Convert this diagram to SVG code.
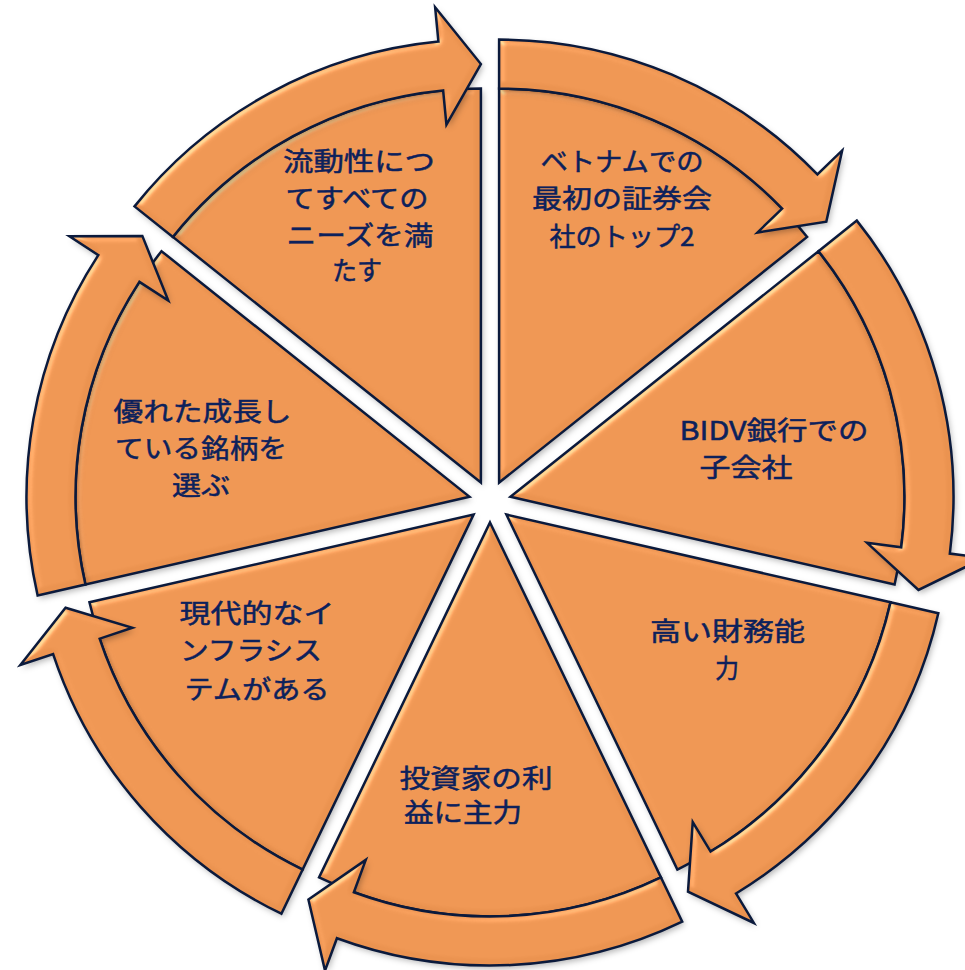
<svg xmlns="http://www.w3.org/2000/svg" xmlns:xlink="http://www.w3.org/1999/xlink" width="965" height="970" viewBox="0 0 965 970">
<style>
.pf{fill:#EB9350;stroke:none}
.ps{fill:none;stroke:#0B1A3C;stroke-width:2.5;stroke-linejoin:miter}
.lbl{font-family:"Noto Sans CJK JP","Noto Sans",sans-serif;font-size:26px;fill:#0C215C;stroke:#0C215C;stroke-width:0.5;text-anchor:middle}
</style>
<defs>
<path id="pieShape" d="M0,0 L-170.95,-354.98 A394,394 0 0 1 170.95,-354.98 Z"/>
<path id="arrowShape" d="M-192.21,-399.13 A443,443 0 0 1 153.06,-415.72 L164.99,-448.09 L181.58,-377.06 L124.22,-337.36 L136.13,-369.73 A394,394 0 0 0 -170.95,-354.98 Z"/>
<filter id="bev" x="-6%" y="-6%" width="114%" height="114%" color-interpolation-filters="sRGB">
<feGaussianBlur in="SourceAlpha" stdDeviation="3" result="blur"/>
<feSpecularLighting in="blur" surfaceScale="3" specularConstant="0.7" specularExponent="22" lighting-color="#ffffff" result="spec">
<feDistantLight azimuth="225" elevation="35"/>
</feSpecularLighting>
<feComposite in="spec" in2="SourceAlpha" operator="in" result="specIn"/>
<feComposite in="SourceGraphic" in2="specIn" operator="arithmetic" k1="0" k2="1" k3="0.4" k4="0" result="lit"/>
<feOffset in="blur" dx="2" dy="3" result="off"/>
<feFlood flood-color="#000000" flood-opacity="0.3" result="fl"/>
<feComposite in="fl" in2="off" operator="in" result="shadow"/>
<feMerge><feMergeNode in="shadow"/><feMergeNode in="lit"/></feMerge>
</filter>
</defs>
<rect width="965" height="970" fill="#ffffff"/>

<g id="node-1">
<g filter="url(#bev)"><use href="#pieShape" class="pf" transform="translate(499.11,482.58) rotate(25.714)"/></g>
<use href="#pieShape" class="ps" transform="translate(499.11,482.58) rotate(25.714)"/>
<text class="lbl" x="622" y="171" textLength="163" lengthAdjust="spacingAndGlyphs">ベトナムでの</text>
<text class="lbl" x="622" y="208" textLength="180" lengthAdjust="spacingAndGlyphs">最初の証券会</text>
<text class="lbl" x="622" y="246" textLength="145" lengthAdjust="spacingAndGlyphs">社のトップ2</text>
</g>

<g id="node-2">
<g filter="url(#bev)"><use href="#pieShape" class="pf" transform="translate(510.47,496.83) rotate(77.143)"/></g>
<use href="#pieShape" class="ps" transform="translate(510.47,496.83) rotate(77.143)"/>
<text class="lbl" x="774" y="440" textLength="189" lengthAdjust="spacingAndGlyphs">BIDV銀行での</text>
<text class="lbl" x="746" y="477" textLength="93" lengthAdjust="spacingAndGlyphs">子会社</text>
</g>

<g id="node-3">
<g filter="url(#bev)"><use href="#pieShape" class="pf" transform="translate(506.42,514.59) rotate(128.571)"/></g>
<use href="#pieShape" class="ps" transform="translate(506.42,514.59) rotate(128.571)"/>
<text class="lbl" x="727.5" y="641" textLength="155" lengthAdjust="spacingAndGlyphs">高い財務能</text>
<text class="lbl" x="727" y="678" textLength="24" lengthAdjust="spacingAndGlyphs">力</text>
</g>

<g id="node-4">
<g filter="url(#bev)"><use href="#pieShape" class="pf" transform="translate(490,522.5) rotate(180)"/></g>
<use href="#pieShape" class="ps" transform="translate(490,522.5) rotate(180)"/>
<text class="lbl" x="476" y="788" textLength="153" lengthAdjust="spacingAndGlyphs">投資家の利</text>
<text class="lbl" x="463" y="822" textLength="118" lengthAdjust="spacingAndGlyphs">益に主力</text>
</g>

<g id="node-5">
<g filter="url(#bev)"><use href="#pieShape" class="pf" transform="translate(473.58,514.59) rotate(231.429)"/></g>
<use href="#pieShape" class="ps" transform="translate(473.58,514.59) rotate(231.429)"/>
<text class="lbl" x="257" y="623" textLength="155" lengthAdjust="spacingAndGlyphs">現代的なイ</text>
<text class="lbl" x="251" y="660" textLength="142" lengthAdjust="spacingAndGlyphs">ンフラシス</text>
<text class="lbl" x="257" y="699" textLength="145" lengthAdjust="spacingAndGlyphs">テムがある</text>
</g>

<g id="node-6">
<g filter="url(#bev)"><use href="#pieShape" class="pf" transform="translate(469.53,496.83) rotate(282.857)"/></g>
<use href="#pieShape" class="ps" transform="translate(469.53,496.83) rotate(282.857)"/>
<text class="lbl" x="202.5" y="421" textLength="178" lengthAdjust="spacingAndGlyphs">優れた成長し</text>
<text class="lbl" x="201" y="458" textLength="172" lengthAdjust="spacingAndGlyphs">ている銘柄を</text>
<text class="lbl" x="201" y="495" textLength="58" lengthAdjust="spacingAndGlyphs">選ぶ</text>
</g>

<g id="node-7">
<g filter="url(#bev)"><use href="#pieShape" class="pf" transform="translate(480.89,482.58) rotate(334.286)"/></g>
<use href="#pieShape" class="ps" transform="translate(480.89,482.58) rotate(334.286)"/>
<text class="lbl" x="359" y="171" textLength="152" lengthAdjust="spacingAndGlyphs">流動性につ</text>
<text class="lbl" x="357" y="208" textLength="143" lengthAdjust="spacingAndGlyphs">てすべての</text>
<text class="lbl" x="360" y="245" textLength="147" lengthAdjust="spacingAndGlyphs">ニーズを満</text>
<text class="lbl" x="357" y="280" textLength="50" lengthAdjust="spacingAndGlyphs">たす</text>
</g>

<g id="connectors">
<g filter="url(#bev)"><use href="#arrowShape" class="pf" transform="translate(499.11,482.58) rotate(25.714)"/></g>
<use href="#arrowShape" class="ps" transform="translate(499.11,482.58) rotate(25.714)"/>
<g filter="url(#bev)"><use href="#arrowShape" class="pf" transform="translate(510.47,496.83) rotate(77.143)"/></g>
<use href="#arrowShape" class="ps" transform="translate(510.47,496.83) rotate(77.143)"/>
<g filter="url(#bev)"><use href="#arrowShape" class="pf" transform="translate(506.42,514.59) rotate(128.571)"/></g>
<use href="#arrowShape" class="ps" transform="translate(506.42,514.59) rotate(128.571)"/>
<g filter="url(#bev)"><use href="#arrowShape" class="pf" transform="translate(490,522.5) rotate(180)"/></g>
<use href="#arrowShape" class="ps" transform="translate(490,522.5) rotate(180)"/>
<g filter="url(#bev)"><use href="#arrowShape" class="pf" transform="translate(473.58,514.59) rotate(231.429)"/></g>
<use href="#arrowShape" class="ps" transform="translate(473.58,514.59) rotate(231.429)"/>
<g filter="url(#bev)"><use href="#arrowShape" class="pf" transform="translate(469.53,496.83) rotate(282.857)"/></g>
<use href="#arrowShape" class="ps" transform="translate(469.53,496.83) rotate(282.857)"/>
<g filter="url(#bev)"><use href="#arrowShape" class="pf" transform="translate(480.89,482.58) rotate(334.286)"/></g>
<use href="#arrowShape" class="ps" transform="translate(480.89,482.58) rotate(334.286)"/>
</g>
</svg>
